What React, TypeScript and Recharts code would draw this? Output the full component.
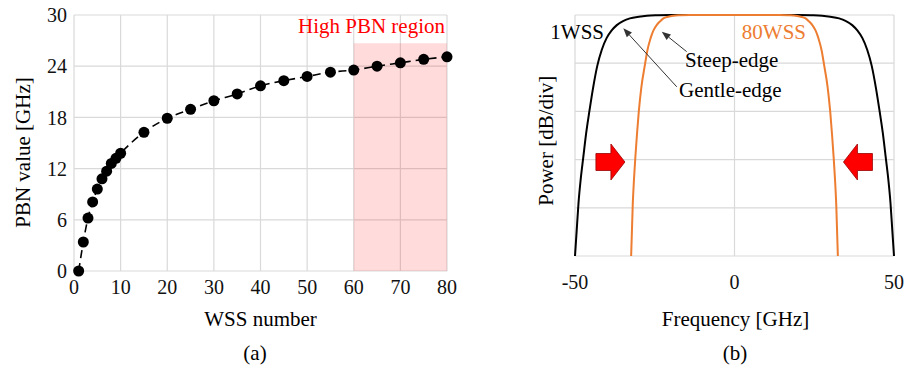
import {
  ComposedChart,
  LineChart,
  CartesianGrid,
  XAxis,
  YAxis,
  Line,
  Label,
  ReferenceArea,
  ReferenceDot,
  ReferenceLine,
} from "recharts";

// (a) PBN vs number of cascaded WSS
const wssNumber = [1, 2, 3, 4, 5, 6, 7, 8, 9, 10, 15, 20, 25, 30, 35, 40, 45, 50, 55, 60, 65, 70, 75, 80];
const pbnValue = [
  0, 3.4, 6.2, 8.1, 9.6, 10.8, 11.7, 12.6, 13.2, 13.8, 16.25, 17.9, 18.95, 19.95, 20.75, 21.7, 22.3,
  22.8, 23.3, 23.55, 24.0, 24.4, 24.8, 25.1,
];
const wssTicks = [0, 10, 20, 30, 40, 50, 60, 70, 80];
const pbnTicks = [0, 6, 12, 18, 24, 30];

// (b) filter shapes
const freq1WSS = [
  -50, -49.5, -48.9, -48.2, -47.4, -46.5, -45.5, -44.3, -43, -41.6, -40.1, -38.5, -36.9, -34.8, -32.8, -30,
  -27.5, -24, -20, 20, 24, 27.5, 30, 32.8, 34.8, 36.9, 38.5, 40.1, 41.6, 43, 44.3, 45.5, 46.5, 47.4, 48.2,
  48.9, 49.5, 50,
];
const power1WSS = [
  -50, -45, -39, -34, -29.5, -24.5, -20, -15, -10.5, -7.2, -4.8, -3.2, -2.1, -1.2, -0.7, -0.35, -0.15,
  -0.05, 0, 0, -0.05, -0.15, -0.35, -0.7, -1.2, -2.1, -3.2, -4.8, -7.2, -10.5, -15, -20, -24.5, -29.5, -34,
  -39, -45, -50,
];
const freq80WSS = [
  -32.4, -31.9, -31.5, -31.1, -30.6, -30, -29.2, -28.1, -27.3, -26.3, -25.4, -24.4, -23.3, -22.3, -20.8,
  -19.2, -17, -14, 14, 17, 19.2, 20.8, 22.3, 23.3, 24.4, 25.4, 26.3, 27.3, 28.1, 29.2, 30, 30.6, 31.1, 31.5,
  31.9, 32.4,
];
const power80WSS = [
  -50, -39.4, -34, -29.7, -25, -20, -15, -10.4, -7.3, -4.8, -3.2, -2.1, -1.3, -0.7, -0.35, -0.15, -0.05, 0,
  0, -0.05, -0.15, -0.35, -0.7, -1.3, -2.1, -3.2, -4.8, -7.3, -10.4, -15, -20, -25, -29.7, -34, -39.4, -50,
];
const freqTicks = [-50, 0, 50];
const powerTicks = [-50, -40, -30, -20, -10, 0];

const pbnData = wssNumber.map((n, i) => ({ n, pbn: pbnValue[i] }));
const wss1Data = freq1WSS.map((f, i) => ({ f, p: power1WSS[i] }));
const wss80Data = freq80WSS.map((f, i) => ({ f, p: power80WSS[i] }));

const serif = '"Liberation Serif", "Times New Roman", serif';
const grid = "#d9d9d9";
const orange = "#ed7d31";

function caption(text: string, x: number, y: number, rotate = false, fill = "#000", anchor = "middle") {
  return () => (
    <text
      x={x}
      y={y}
      transform={rotate ? `rotate(-90 ${x} ${y})` : undefined}
      textAnchor={anchor}
      fontSize={21}
      fontFamily={serif}
      fill={fill}
    >
      {text}
    </text>
  );
}

// only cx/cy are taken from the dot props (ReferenceDot passes a white fill otherwise)
function note(text: string, dx = 0, dy = 0, fill = "#000", anchor = "start") {
  return ({ cx, cy }: any) => (
    <text x={cx + dx} y={cy + dy} textAnchor={anchor} fontSize={21} fontFamily={serif} fill={fill}>
      {text}
    </text>
  );
}

function PointerArrow({ x1, y1, x2, y2 }: any) {
  const a = Math.atan2(y2 - y1, x2 - x1);
  const len = 9;
  const w = 3.5;
  const bx = x2 - len * Math.cos(a);
  const by = y2 - len * Math.sin(a);
  const px = -Math.sin(a) * w;
  const py = Math.cos(a) * w;
  return (
    <g>
      <line x1={x1} y1={y1} x2={bx} y2={by} stroke="#333" strokeWidth={1} />
      <polygon points={`${x2},${y2} ${bx + px},${by + py} ${bx - px},${by - py}`} fill="#333" />
    </g>
  );
}

function BlockArrow({ cx, cy, dir }: any) {
  const pts = [
    [-14.5, -8.5],
    [0.5, -8.5],
    [0.5, -18],
    [14.5, 0],
    [0.5, 18],
    [0.5, 8.5],
    [-14.5, 8.5],
  ]
    .map(([x, y]) => `${cx + dir * x},${cy + y}`)
    .join(" ");
  return <polygon points={pts} fill="#ff0000" stroke="#9a0000" strokeWidth={0.8} />;
}

function PbnChart() {
  return (
    <ComposedChart
      width={470}
      height={369}
      data={pbnData}
      margin={{ top: 15, right: 23, bottom: 0, left: 0 }}
    >
      <CartesianGrid stroke={grid} strokeWidth={1.2} />
      <XAxis
        dataKey="n"
        type="number"
        domain={[0, 80]}
        ticks={wssTicks}
        axisLine={false}
        tickLine={false}
        tickSize={0}
        tickMargin={9}
        height={98}
        tick={{ fill: "#111", fontSize: 20, fontFamily: serif }}
      >
        <Label content={caption("WSS number", 260.5, 325.7)} />
        <Label content={caption("(a)", 255, 360)} />
      </XAxis>
      <YAxis
        type="number"
        domain={[0, 30]}
        ticks={pbnTicks}
        axisLine={false}
        tickLine={false}
        tickSize={0}
        tickMargin={7}
        width={74}
        tick={{ fill: "#111", fontSize: 20, fontFamily: serif }}
      >
        <Label content={caption("PBN value [GHz]", 29.5, 152.5, true)} />
      </YAxis>
      <ReferenceArea x1={60} x2={80} y1={0} y2={26.7} fill="#ff0000" fillOpacity={0.14} stroke="none" />
      <ReferenceDot x={80} y={30} r={0} shape={note("High PBN region", -2, 18.3, "#ff0000", "end")} />
      <Line
        dataKey="pbn"
        type="monotone"
        stroke="#000"
        strokeWidth={1.6}
        strokeDasharray="8 5"
        dot={{ r: 5.5, fill: "#000", stroke: "none" }}
        isAnimationActive={false}
      />
    </ComposedChart>
  );
}

function FilterChart() {
  return (
    <LineChart width={436} height={369} margin={{ top: 15, right: 12, bottom: 0, left: 0 }}>
      <CartesianGrid stroke={grid} strokeWidth={1.2} />
      <XAxis
        dataKey="f"
        type="number"
        domain={[-50, 50]}
        ticks={freqTicks}
        axisLine={false}
        tickLine={false}
        tickSize={0}
        tickMargin={19}
        height={113}
        tick={{ fill: "#111", fontSize: 20, fontFamily: serif }}
      >
        <Label content={caption("Frequency [GHz]", 265.5, 325.7)} />
        <Label content={caption("(b)", 265, 360)} />
      </XAxis>
      <YAxis
        type="number"
        domain={[-50, 0]}
        ticks={powerTicks}
        axisLine={false}
        tickLine={false}
        tickFormatter={() => ""}
        width={105}
      >
        <Label content={caption("Power [dB/div]", 83, 140.7, true)} />
      </YAxis>
      <Line
        data={wss1Data}
        dataKey="p"
        type="monotone"
        stroke="#000"
        strokeWidth={2}
        dot={false}
        isAnimationActive={false}
      />
      <Line
        data={wss80Data}
        dataKey="p"
        type="monotone"
        stroke={orange}
        strokeWidth={2}
        dot={false}
        isAnimationActive={false}
      />
      <ReferenceDot x={-40.9} y={-5} r={0} shape={note("1WSS", 0, 0, "#000", "end")} />
      <ReferenceDot x={2.3} y={-5} r={0} shape={note("80WSS", 0, 0, orange)} />
      <ReferenceDot x={-15.5} y={-10.7} r={0} shape={note("Steep-edge")} />
      <ReferenceDot x={-17.4} y={-17.1} r={0} shape={note("Gentle-edge")} />
      <ReferenceLine
        segment={[
          { x: -15.0, y: -7.6 },
          { x: -22.8, y: -3.46 },
        ]}
        shape={(p: any) => <PointerArrow {...p} />}
      />
      <ReferenceLine
        segment={[
          { x: -18.1, y: -14.9 },
          { x: -34.86, y: -2.76 },
        ]}
        shape={(p: any) => <PointerArrow {...p} />}
      />
      <ReferenceDot x={-38.9} y={-30.5} r={0} shape={(p: any) => <BlockArrow cx={p.cx} cy={p.cy} dir={1} />} />
      <ReferenceDot x={38.7} y={-30.5} r={0} shape={(p: any) => <BlockArrow cx={p.cx} cy={p.cy} dir={-1} />} />
    </LineChart>
  );
}

export default function App() {
  return (
    <div
      style={{
        position: "absolute",
        left: 0,
        top: 0,
        width: 906,
        height: 369,
        background: "#fff",
        fontFamily: serif,
      }}
    >
      <div style={{ position: "absolute", left: 0, top: 0 }}>
        <PbnChart />
      </div>
      <div style={{ position: "absolute", left: 470, top: 0 }}>
        <FilterChart />
      </div>
    </div>
  );
}
